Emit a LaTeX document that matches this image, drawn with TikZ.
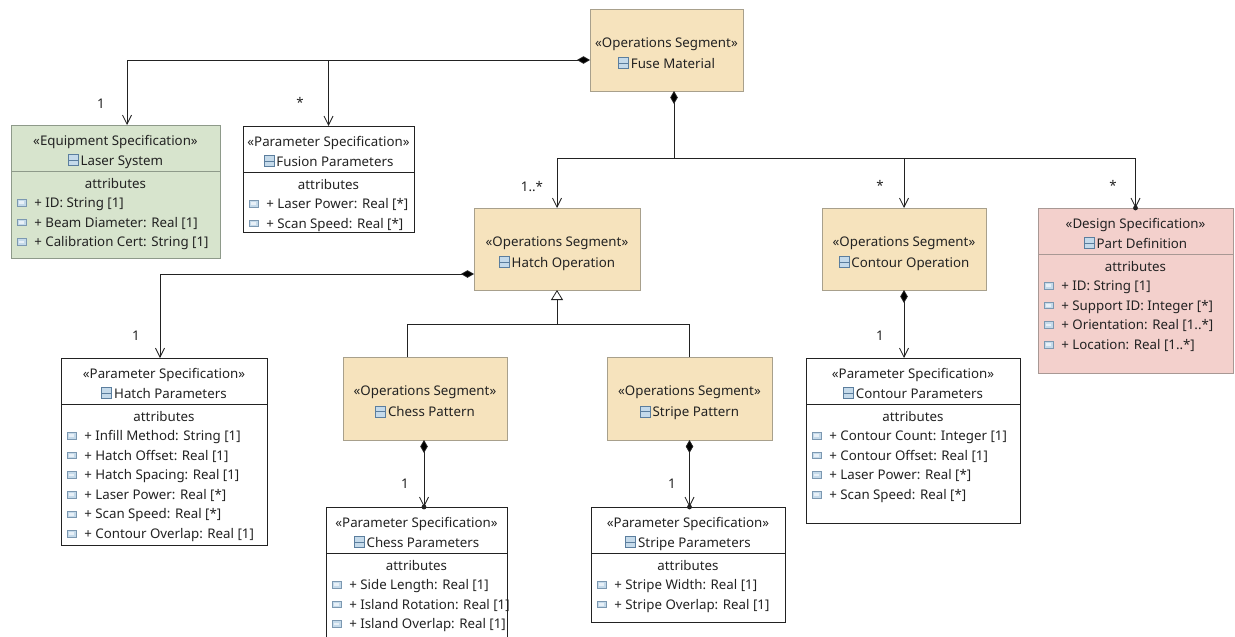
\documentclass[tikz,border=0pt]{standalone}
\usepackage{fontspec}
\setmainfont{Noto Sans}
\usetikzlibrary{arrows.meta,calc}

\definecolor{ink}{HTML}{222222}
\definecolor{opfill}{HTML}{F6E3BD}
\definecolor{opdraw}{HTML}{A8A08C}
\definecolor{eqfill}{HTML}{D7E4CD}
\definecolor{eqdraw}{HTML}{8E9A8A}
\definecolor{dsfill}{HTML}{F3D0CC}
\definecolor{dsdraw}{HTML}{A89894}
\definecolor{icofill}{HTML}{C5DAEA}
\definecolor{icodraw}{HTML}{5B7E9E}

% small class and attribute glyphs
\newcommand\clsico{\tikz[baseline=0pt,x=1pt,y=1pt]{%
  \draw[icodraw,fill=icofill,line width=0.6pt] (0,-0.5) rectangle (10,10.5);
  \draw[icodraw,line width=0.6pt] (0,5) -- (10,5);}}
\newcommand\attrico{\tikz[baseline=0pt,x=1pt,y=1pt]{%
  \draw[icodraw!80,fill=icofill,line width=0.6pt] (0,1.5) rectangle (8.5,8);
  \fill[white!60!icofill] (1.8,3.4) rectangle (6.7,6.1);}}

\tikzset{
  umltext/.style={font=\fontsize{13.3}{16}\selectfont, text=ink, inner sep=0pt},
  opbox/.style={draw=opdraw, fill=opfill, line width=0.9pt},
  eqbox/.style={draw=eqdraw, fill=eqfill, line width=0.9pt},
  dsbox/.style={draw=dsdraw, fill=dsfill, line width=0.9pt},
  psbox/.style={draw=ink, fill=white, line width=0.8pt},
  wire/.style={draw=ink, line width=0.8pt},
  nav/.style={wire, -{Straight Barb[length=9pt,width=9pt]}},
  comp/.style={wire, {Diamond[length=13pt,width=7.5pt]}-{Straight Barb[length=9pt,width=9pt]}},
  gen/.style={wire, -{Triangle[open,length=10pt,width=12pt,fill=white]}},
  mult/.style={umltext},
}

% box: name, style, left, top, right, bottom
\newcommand\umlbox[6]{%
  \node[#2, anchor=north west, inner sep=0pt, outer sep=0pt,
        minimum width={(#5)-(#3)}, minimum height={(#6)-(#4)}] (#1) at (#3,#4) {};}
% header of a segment box: name, stereotype, title
\newcommand\ophead[3]{%
  \node[umltext, anchor=base] (#1-st) at ([yshift=3pt]#1.center) {«#2»};
  \node[umltext, anchor=base] (#1-nm) at ([yshift=-18pt]#1.center) {\clsico\,#3};}
% header of a class with attributes: name, stereotype, title, separator colour
\newcommand\clshead[4]{%
  \node[umltext, anchor=base] (#1-st) at ([yshift=-20pt]#1.north) {«#2»};
  \node[umltext, anchor=base] (#1-nm) at ([yshift=-40pt]#1.north) {\clsico\,#3};
  \draw[#4, line width=0.8pt] ([yshift=-46pt]#1.north west) -- ([yshift=-46pt]#1.north east);
  \node[umltext, anchor=base] (#1-at) at ([yshift=-63pt]#1.north) {attributes};}
% attribute rows: name, list
\newcommand\attrs[2]{%
  \foreach \a [count=\i from 0] in {#2}{
    \node[umltext, anchor=base west] (#1-a\i) at ([xshift=6pt,yshift={-82.5pt-19.6pt*\i}]#1.north west) {\attrico\hspace{8pt}\a};}}

\begin{document}
\begin{tikzpicture}[x=1pt,y=-1pt]
\fill[white] (0,0) rectangle (1235,637);
\useasboundingbox (0,0) rectangle (1235,637);

% ---- classes
\umlbox{fuse}{opbox}{590}{9}{743}{91}
\ophead{fuse}{Operations Segment}{Fuse Material}

\umlbox{laser}{eqbox}{11}{125}{220}{258}
\clshead{laser}{Equipment Specification}{Laser System}{eqdraw}
\attrs{laser}{{+ ID: String [1]},{+ Beam Diameter: Real [1]},{+ Calibration Cert: String [1]}}

\umlbox{fusion}{psbox}{243}{126}{414}{232}
\clshead{fusion}{Parameter Specification}{Fusion Parameters}{ink}
\attrs{fusion}{{+ Laser Power: Real [*]},{+ Scan Speed: Real [*]}}

\umlbox{hatchop}{opbox}{474}{208}{640}{290}
\ophead{hatchop}{Operations Segment}{Hatch Operation}

\umlbox{contour}{opbox}{822}{208}{986}{290}
\ophead{contour}{Operations Segment}{Contour Operation}

\umlbox{partdef}{dsbox}{1038}{208}{1233}{373}
\clshead{partdef}{Design Specification}{Part Definition}{dsdraw}
\attrs{partdef}{{+ ID: String [1]},{+ Support ID: Integer [*]},{+ Orientation: Real [1..*]},{+ Location: Real [1..*]}}

\umlbox{hatchpar}{psbox}{61}{358}{267}{545}
\clshead{hatchpar}{Parameter Specification}{Hatch Parameters}{ink}
\attrs{hatchpar}{{+ Infill Method: String [1]},{+ Hatch Offset: Real [1]},{+ Hatch Spacing: Real [1]},{+ Laser Power: Real [*]},{+ Scan Speed: Real [*]},{+ Contour Overlap: Real [1]}}

\umlbox{chess}{opbox}{343}{357}{507}{440}
\ophead{chess}{Operations Segment}{Chess Pattern}

\umlbox{stripe}{opbox}{607}{357}{772}{440}
\ophead{stripe}{Operations Segment}{Stripe Pattern}

\umlbox{contourpar}{psbox}{806}{358}{1020}{523}
\clshead{contourpar}{Parameter Specification}{Contour Parameters}{ink}
\attrs{contourpar}{{+ Contour Count: Integer [1]},{+ Contour Offset: Real [1]},{+ Laser Power: Real [*]},{+ Scan Speed: Real [*]}}

\umlbox{chesspar}{psbox}{326}{507}{507}{660}
\clshead{chesspar}{Parameter Specification}{Chess Parameters}{ink}
\attrs{chesspar}{{+ Side Length: Real [1]},{+ Island Rotation: Real [1]},{+ Island Overlap: Real [1]}}

\umlbox{stripepar}{psbox}{591}{507}{785}{622}
\clshead{stripepar}{Parameter Specification}{Stripe Parameters}{ink}
\attrs{stripepar}{{+ Stripe Width: Real [1]},{+ Stripe Overlap: Real [1]}}

% ---- connectors
\coordinate (topbus) at ([yshift=-10pt]fuse.west);
\draw[comp] (topbus) -| ([xshift=11.5pt]laser.north);
\draw[nav] (fusion.north |- topbus) -- (fusion.north);

\coordinate (fb) at ([xshift=7.5pt]fuse.south);
\coordinate (bus) at (0,158);
\draw[comp] (fb) -- (fb |- bus) -| (partdef.north);
\draw[nav] (fb |- bus) -| (hatchop.north);
\draw[nav] (contour.north |- bus) -- (contour.north);
\fill[ink] (partdef.north) circle (2.4pt);

\draw[comp] ([yshift=-25pt]hatchop.west) -| ([xshift=-4pt]hatchpar.north);

\coordinate (genbus) at (0,324);
\coordinate (chesstop) at ([xshift=-18pt]chess.north);
\draw[wire] (chesstop) |- (stripe.north |- genbus) -- (stripe.north);
\draw[gen] (hatchop.south |- genbus) -- (hatchop.south);

\draw[comp] ([xshift=-1pt]chess.south) -- ([xshift=-1pt]chess.south |- chesspar.north) coordinate (chesstip);
\fill[ink] (chesstip) circle (2.4pt);
\draw[comp] (stripe.south) -- (stripe.south |- stripepar.north) coordinate (stripetip);
\fill[ink] (stripetip) circle (2.4pt);
\draw[comp] (contour.south) -- (contour.south |- contourpar.north);

% ---- multiplicities
\node[mult] (m-laser) at (101,104) {1};
\node[mult] (m-fusion) at (300,102) {*};
\node[mult] (m-hatchop) at (532,187) {1..*};
\node[mult] (m-contour) at (880,185) {*};
\node[mult] (m-partdef) at (1113,185) {*};
\node[mult] (m-hatchpar) at (136,336) {1};
\node[mult] (m-contourpar) at (880,336) {1};
\node[mult] (m-chesspar) at (405,484) {1};
\node[mult] (m-stripepar) at (672,484) {1};
\end{tikzpicture}
\end{document}
